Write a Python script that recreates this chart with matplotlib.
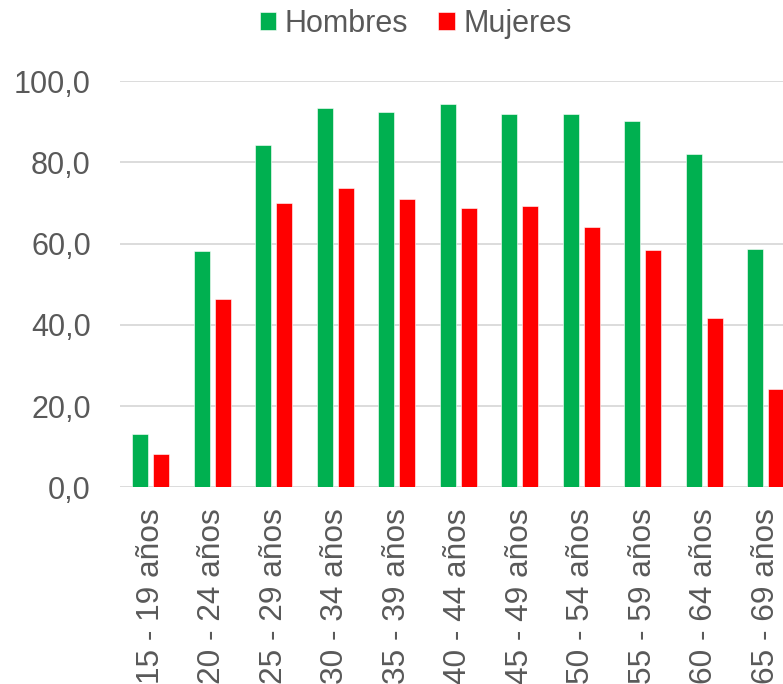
import matplotlib
matplotlib.use("Agg")
import matplotlib.pyplot as plt
import numpy as np

plt.rcParams['font.family'] = ['Liberation Sans', 'DejaVu Sans']

grupos = ["15 - 19 años", "20 - 24 años", "25 - 29 años", "30 - 34 años",
          "35 - 39 años", "40 - 44 años", "45 - 49 años", "50 - 54 años",
          "55 - 59 años", "60 - 64 años", "65 - 69 años"]
hombres = [13.2, 58.2, 84.3, 93.4, 92.4, 94.4, 91.9, 91.9, 90.1, 82.1, 58.7]
mujeres = [8.3, 46.3, 69.9, 73.8, 70.9, 68.8, 69.4, 64.0, 58.4, 41.7, 24.3]
yticks = [0, 20, 40, 60, 80, 100]

VERDE = "#00B050"
ROJO = "#FF0000"
TEXTO = "#595959"
REJILLA = "#D9D9D9"

fig = plt.figure(figsize=(7.83, 6.84), dpi=100)
# the plot area runs a bit past the right edge of the image
ax = fig.add_axes([0.1533, 0.2876, 0.864, 0.5936])

x = np.arange(len(grupos))
ancho = 0.265
ax.bar(x - 0.17, hombres, ancho, color=VERDE, label="Hombres",
       edgecolor="white", linewidth=0.4, zorder=3)
ax.bar(x + 0.17, mujeres, ancho, color=ROJO, label="Mujeres",
       edgecolor="white", linewidth=0.4, zorder=3)

ax.set_xlim(-0.5, len(grupos) - 0.5)
ax.set_ylim(0, 100)
ax.set_yticks(yticks)
ax.set_yticklabels([f"{v:.1f}".replace(".", ",") for v in yticks])
ax.set_xticks(x)
ax.set_xticklabels(grupos, rotation=90)

ax.grid(axis="y", color=REJILLA, linewidth=1.3, zorder=0)
ax.set_axisbelow(True)
for s in ["top", "right", "left", "bottom"]:
    ax.spines[s].set_visible(False)
ax.tick_params(axis="y", length=0, pad=21, labelsize=22, labelcolor=TEXTO)
ax.tick_params(axis="x", length=0, pad=15, labelsize=22.8, labelcolor=TEXTO)

leg = fig.legend(loc="center", bbox_to_anchor=(415.5 / 783, 1 - 24 / 684),
                 ncol=2, frameon=False, fontsize=22, handlelength=0.55,
                 handleheight=0.55, handletextpad=0.26, columnspacing=1.0,
                 borderaxespad=0, borderpad=0)
for t in leg.get_texts():
    t.set_color(TEXTO)

fig.savefig("out.png", dpi=100)
